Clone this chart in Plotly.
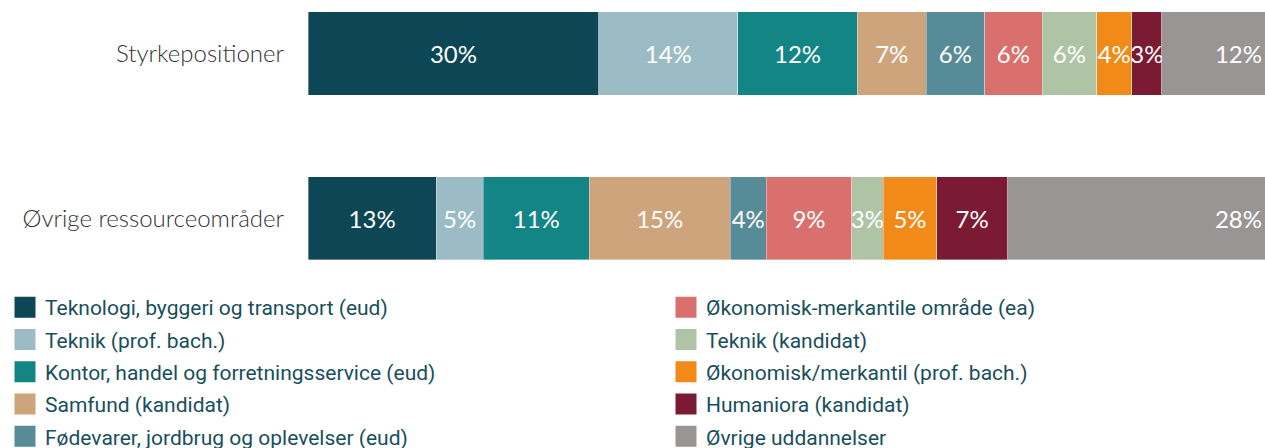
import plotly.graph_objects as go

categories = ["Styrkepositioner", "Øvrige ressourceområder"]

series_names = [
    "Teknologi, byggeri og transport (eud)",
    "Teknik (prof. bach.)",
    "Kontor, handel og forretningsservice (eud)",
    "Samfund (kandidat)",
    "Fødevarer, jordbrug og oplevelser (eud)",
    "Økonomisk-merkantile område (ea)",
    "Teknik (kandidat)",
    "Økonomisk/merkantil (prof. bach.)",
    "Humaniora (kandidat)",
    "Øvrige uddannelser",
]

colors = ["#0d4654", "#9bbcc4", "#138585", "#cda47b", "#578b98",
          "#d9706d", "#aec4a5", "#f18a18", "#7a1a33", "#999595"]

# shares (%) per series: [Styrkepositioner, Øvrige ressourceområder]
values_styrke = [30.4, 14.5, 12.5, 7.2, 6.1, 6.0, 5.7, 3.7, 3.1, 10.8]
values_ovrige = [13.4, 4.9, 11.1, 14.7, 3.8, 8.9, 3.3, 5.6, 7.4, 26.9]

labels_styrke = ["30%", "14%", "12%", "7%", "6%", "6%", "6%", "4%", "3%", "12%"]
labels_ovrige = ["13%", "5%", "11%", "15%", "4%", "9%", "3%", "5%", "7%", "28%"]

fig = go.Figure()
for i, name in enumerate(series_names):
    fig.add_trace(go.Bar(
        y=categories,
        x=[values_styrke[i], values_ovrige[i]],
        orientation="h",
        name=name,
        marker=dict(color=colors[i], line=dict(width=0.6, color="rgba(255,255,255,0.6)")),
        text=[labels_styrke[i], labels_ovrige[i]],
        textposition="inside",
        insidetextanchor="end" if i == len(series_names) - 1 else "middle",
        textangle=0,
        textfont=dict(family="Lato", size=24, color="white"),
        width=0.505,
        showlegend=False,
        hoverinfo="skip",
    ))

# legend entries (two columns)
for i, name in enumerate(series_names):
    fig.add_trace(go.Scatter(
        x=[None], y=[None],
        mode="markers",
        name=name,
        marker=dict(symbol="square", size=16, color=colors[i],
                    line=dict(width=5, color=colors[i])),
        legend="legend" if i < 5 else "legend2",
        legendgroup="g%d" % i,
        showlegend=True,
    ))

legend_common = dict(
    font=dict(family="Roboto", size=21, color="#184f5b"),
    bgcolor="rgba(0,0,0,0)",
    orientation="v",
    yanchor="top",
    xanchor="left",
    tracegroupgap=2,
    itemclick=False,
    itemdoubleclick=False,
)

fig.update_layout(
    width=1265,
    height=448,
    margin=dict(l=308, r=0, t=0, b=0, autoexpand=False),
    paper_bgcolor="white",
    plot_bgcolor="white",
    barmode="stack",
    bargap=0.5,
    uniformtext=dict(minsize=24, mode="show"),
    xaxis=dict(range=[0, 100], visible=False, fixedrange=True),
    yaxis=dict(
        range=[1.316, -0.325],
        domain=[0.397, 1],
        type="category",
        showgrid=False,
        showline=False,
        zeroline=False,
        ticks="",
        ticklabelstandoff=23,
        tickfont=dict(family="Lato", size=24, color="#333333", weight=300),
        fixedrange=True,
    ),
    legend=dict(x=(5 - 308) / 957, y=(448 - 287) / 448, **legend_common),
    legend2=dict(x=(666 - 308) / 957, y=(448 - 287) / 448, **legend_common),
)

fig.write_html(
    "out.html",
    config={"displayModeBar": False},
    post_script="document.body.style.margin='0';document.body.style.overflow='hidden';",
)
